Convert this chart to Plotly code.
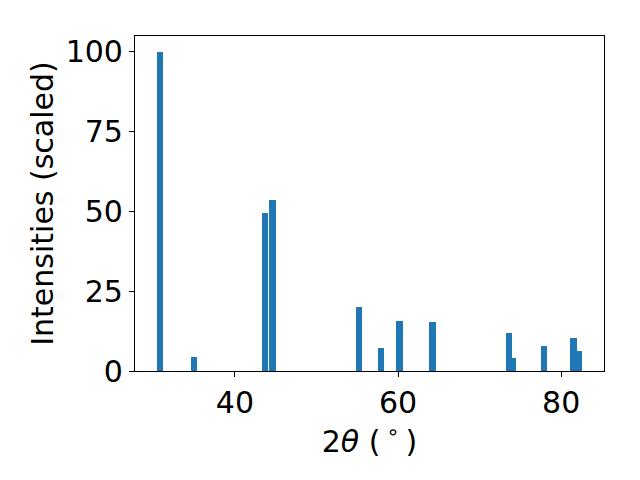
import plotly.graph_objects as go

two_theta = [30.8, 35.0, 43.7, 44.6, 55.2, 57.9, 60.2, 64.2, 73.6, 74.0, 77.9, 81.5, 82.2]
intensity = [100.0, 4.4, 49.5, 53.6, 20.1, 7.2, 15.7, 15.4, 11.9, 4.1, 7.8, 10.3, 6.3]
x_ticks = [40, 60, 80]
y_ticks = [0, 25, 50, 75, 100]

FONT = "DejaVu Sans"
TICK_SIZE = 30
LABEL_SIZE = 30
fig = go.Figure(go.Bar(x=two_theta, y=intensity, width=0.8,
                       marker=dict(color="#1f77b4", line=dict(width=0))))

axis_common = dict(showline=True, linecolor="black", linewidth=1.1, mirror=True,
                   ticks="outside", ticklen=5, tickwidth=1.1, tickcolor="black",
                   showgrid=False, zeroline=False, automargin=False,
                   tickfont=dict(family=FONT, size=TICK_SIZE, color="black"))
fig.update_xaxes(range=[27.75, 85.25], tickvals=x_ticks,
                 title=dict(text="2<i>θ</i> (\u2009<sup>∘</sup>\u2009)", font=dict(family=FONT, size=LABEL_SIZE, color="black"), standoff=4),
                 **axis_common)
fig.update_yaxes(range=[0, 105], tickvals=y_ticks,
                 title=dict(text="Intensities (scaled)", font=dict(family=FONT, size=LABEL_SIZE, color="black"), standoff=3),
                 **axis_common)
# page body adds an 8px offset, compensated in the margins
fig.update_layout(width=640, height=480, margin=dict(l=127, r=44, t=28, b=117),
                  plot_bgcolor="white", paper_bgcolor="white", showlegend=False, bargap=0,
                  font=dict(family=FONT, size=TICK_SIZE, color="black"))
fig.write_html("out.html")
